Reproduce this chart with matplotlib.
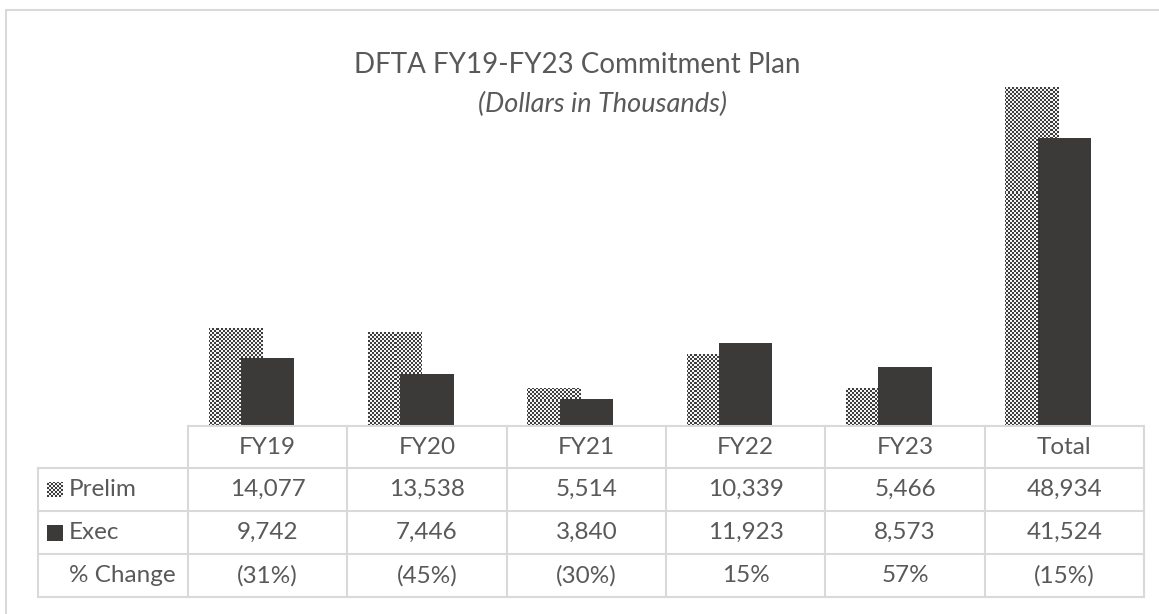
import numpy as np
import matplotlib.pyplot as plt
from matplotlib.colors import ListedColormap
from matplotlib.patches import Rectangle

plt.rcParams["font.family"] = ["Lato", "DejaVu Sans"]

# data (dollars in thousands)
categories = ["FY19", "FY20", "FY21", "FY22", "FY23", "Total"]
prelim = [14077, 13538, 5514, 10339, 5466, 48934]
exec_plan = [9742, 7446, 3840, 11923, 8573, 41524]
row_labels = ["Prelim", "Exec", "% Change"]

TXT = "#595959"
GRID = "#d9d9d9"
DARK = "#3b3a38"
CHECK = ListedColormap(["#f4f4f4", "#3e3e3e"])

W, H = 1159, 614
fig = plt.figure(figsize=(W / 100, H / 100), dpi=100)

# bar area in pixel coords: x 188..1144, y 10..426 (top-down)
L, R, T, B = 188, 1144, 10, 426
ax = fig.add_axes([L / W, (H - B) / H, (R - L) / W, (B - T) / H])
ax.set_xlim(-0.5, len(categories) - 0.5)
ax.set_ylim(0, 60000)
ax.axis("off")

x = np.arange(len(categories))
bw = 0.333
pb = ax.bar(x - 0.204, prelim, width=bw, color="white", linewidth=0, zorder=2)
eb = ax.bar(x, exec_plan, width=bw, color=DARK, linewidth=0, zorder=4)

# checkerboard fill for the prelim bars (2px cells)
ny, nx = (B - T) // 2, (R - L) // 2
checker = (np.add.outer(np.arange(ny), np.arange(nx)) % 2).astype(float)
for p in pb:
    im = ax.imshow(checker, cmap=CHECK, vmin=0, vmax=1, interpolation="none",
                   extent=(-0.5, len(categories) - 0.5, 0, 60000),
                   aspect="auto", zorder=3)
    im.set_clip_path(p)
ax.set_xlim(-0.5, len(categories) - 0.5)
ax.set_ylim(0, 60000)

# overlay in pixel coords for title, border and data table
ov = fig.add_axes([0, 0, 1, 1], zorder=5)
ov.set_xlim(0, W)
ov.set_ylim(H, 0)
ov.axis("off")
ov.patch.set_alpha(0)

# outer chart border (only left/top visible)
ov.plot([5.5, 5.5, W], [H, 9.5, 9.5], color=GRID, lw=1.5)

ov.text(577, 65, "DFTA FY19-FY23 Commitment Plan", ha="center", va="center",
        fontsize=20, color=TXT)
ov.text(602, 104, "(Dollars in Thousands)", ha="center", va="center",
        fontsize=19.5, style="italic", color=TXT)

col_w = (R - L) / len(categories)
rows_y = [426, 468, 511, 554, 597]
# grid
ov.plot([L, R], [rows_y[0], rows_y[0]], color=GRID, lw=1.5)
for yy in rows_y[1:]:
    ov.plot([38, R], [yy, yy], color=GRID, lw=1.5)
ov.plot([38, 38], [rows_y[1], rows_y[-1]], color=GRID, lw=1.5)
for i in range(len(categories) + 1):
    xx = L + i * col_w
    ov.plot([xx, xx], [rows_y[0], rows_y[-1]], color=GRID, lw=1.5)


def pct(a, b):
    v = round((b - a) / a * 100)
    return f"({abs(v)}%)" if v < 0 else f"{v}%"


fs = 17.5
cy = [(rows_y[i] + rows_y[i + 1]) / 2 for i in range(4)]
for i, c in enumerate(categories):
    cx = L + (i + 0.5) * col_w
    ov.text(cx, cy[0], c, ha="center", va="center", fontsize=fs, color=TXT)
    ov.text(cx, cy[1], f"{prelim[i]:,}", ha="center", va="center", fontsize=fs, color=TXT)
    ov.text(cx, cy[2], f"{exec_plan[i]:,}", ha="center", va="center", fontsize=fs, color=TXT)
    ov.text(cx, cy[3], pct(prelim[i], exec_plan[i]), ha="center", va="center",
            fontsize=fs, color=TXT)

for j, lab in enumerate(row_labels):
    ov.text(69, cy[j + 1], lab, ha="left", va="center", fontsize=fs, color=TXT)

# legend keys
k = 16
key = Rectangle((47, cy[1] - k / 2), k, k, facecolor="white", linewidth=0, zorder=1)
ov.add_patch(key)
kim = ov.imshow((np.add.outer(np.arange(8), np.arange(8)) % 2).astype(float),
                cmap=CHECK, vmin=0, vmax=1, interpolation="none",
                extent=(47, 47 + k, cy[1] + k / 2, cy[1] - k / 2), aspect="auto",
                zorder=2)
kim.set_clip_path(key)
ov.add_patch(Rectangle((47, cy[2] - k / 2), k, k, facecolor=DARK, linewidth=0))
ov.set_xlim(0, W)
ov.set_ylim(H, 0)

fig.savefig("out.png", dpi=100)
